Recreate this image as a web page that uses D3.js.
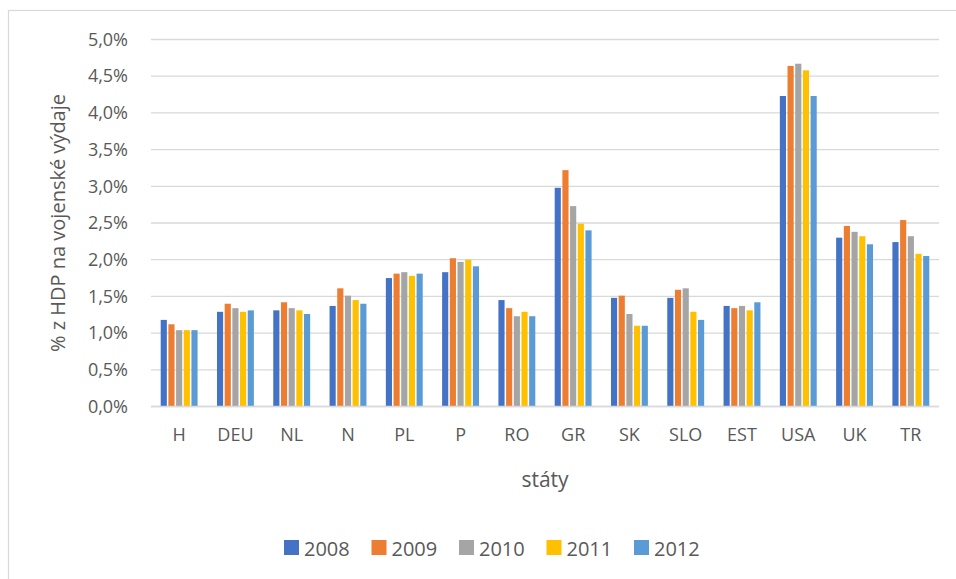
<!DOCTYPE html>
<html>
<head>
<meta charset="utf-8">
<script src="https://cdn.jsdelivr.net/npm/d3@7"></script>
<style>
  body { margin: 0; background: #fff; }
  text { font-family: "Open Sans", "Noto Sans", sans-serif; fill: #595959; }
</style>
</head>
<body>
<div id="chart"></div>
<script>
// data
const states = ["H", "DEU", "NL", "N", "PL", "P", "RO", "GR", "SK", "SLO", "EST", "USA", "UK", "TR"];
const years = ["2008", "2009", "2010", "2011", "2012"];
const v2008 = [1.18, 1.29, 1.31, 1.37, 1.75, 1.83, 1.45, 2.98, 1.48, 1.48, 1.37, 4.23, 2.30, 2.24];
const v2009 = [1.12, 1.40, 1.42, 1.61, 1.81, 2.02, 1.34, 3.22, 1.51, 1.59, 1.34, 4.64, 2.46, 2.54];
const v2010 = [1.04, 1.34, 1.34, 1.51, 1.83, 1.97, 1.23, 2.73, 1.26, 1.61, 1.37, 4.67, 2.38, 2.32];
const v2011 = [1.04, 1.29, 1.31, 1.45, 1.78, 2.00, 1.29, 2.49, 1.10, 1.29, 1.31, 4.58, 2.32, 2.08];
const v2012 = [1.04, 1.31, 1.26, 1.40, 1.81, 1.91, 1.23, 2.40, 1.10, 1.18, 1.42, 4.23, 2.21, 2.05];
const yTicks = [0, 0.5, 1, 1.5, 2, 2.5, 3, 3.5, 4, 4.5, 5];
const colors = ["#4472C4", "#ED7D31", "#A5A5A5", "#FFC000", "#5B9BD5"];

const series = [v2008, v2009, v2010, v2011, v2012];

const width = 956, height = 579;
const plotLeft = 151, plotRight = 939, plotTop = 39.5, plotBottom = 406.5;

const svg = d3.select("#chart").append("svg")
  .attr("width", width)
  .attr("height", height);

// outer chart frame
svg.append("rect")
  .attr("x", 8.5).attr("y", 10.5)
  .attr("width", 1000).attr("height", 700)
  .attr("fill", "#fff")
  .attr("stroke", "#d9d9d9")
  .attr("stroke-width", 1.2);

const x = d3.scaleBand().domain(states).range([plotLeft, plotRight]).paddingInner(0.29).paddingOuter(0.145);
const xs = d3.scaleBand().domain(years).range([0, x.bandwidth()]).padding(0.2);
const y = d3.scaleLinear().domain([0, 5]).range([plotBottom, plotTop]);

// gridlines
svg.append("g")
  .selectAll("line")
  .data(yTicks)
  .enter()
  .append("line")
  .attr("x1", plotLeft).attr("x2", plotRight)
  .attr("y1", d => y(d)).attr("y2", d => y(d))
  .attr("stroke", "#d9d9d9")
  .attr("stroke-width", 1.3);

// y axis labels
const yAxis = d3.axisLeft(y)
  .tickValues(yTicks)
  .tickSize(0)
  .tickPadding(23)
  .tickFormat(d => d3.format(".1f")(d).replace(".", ",") + "%");
svg.append("g")
  .attr("transform", `translate(${plotLeft},0)`)
  .call(yAxis)
  .call(g => g.select(".domain").remove())
  .call(g => g.selectAll("text").attr("font-size", 18).style("font-family", null).attr("font-family", null));

// bars
const groups = svg.append("g")
  .selectAll("g")
  .data(states)
  .enter()
  .append("g")
  .attr("transform", d => `translate(${x(d)},0)`);

groups.selectAll("rect")
  .data((d, i) => series.map((s, j) => ({ year: years[j], value: s[i] })))
  .enter()
  .append("rect")
  .attr("x", d => xs(d.year))
  .attr("y", d => y(d.value))
  .attr("width", xs.bandwidth())
  .attr("height", d => y(0) - y(d.value))
  .attr("fill", (d, j) => colors[j]);

// x axis line on top of bars
svg.append("line")
  .attr("x1", plotLeft).attr("x2", plotRight)
  .attr("y1", y(0)).attr("y2", y(0))
  .attr("stroke", "#d9d9d9")
  .attr("stroke-width", 1.3);

// x axis labels
const xAxis = d3.axisBottom(x).tickSize(0).tickPadding(22);
svg.append("g")
  .attr("transform", `translate(0,${plotBottom})`)
  .call(xAxis)
  .call(g => g.select(".domain").remove())
  .call(g => g.selectAll("text").attr("font-size", 18).style("font-family", null).attr("font-family", null));

// axis titles
svg.append("text")
  .attr("x", (plotLeft + plotRight) / 2)
  .attr("y", 487)
  .attr("text-anchor", "middle")
  .attr("font-size", 21)
  .text("státy");

svg.append("text")
  .attr("transform", `translate(65,${(plotTop + plotBottom) / 2}) rotate(-90)`)
  .attr("text-anchor", "middle")
  .attr("font-size", 20)
  .text("% z HDP na vojenské výdaje");

// legend
const legend = svg.append("g")
  .selectAll("g")
  .data(years)
  .enter()
  .append("g")
  .attr("transform", (d, i) => `translate(${284 + i * 87.5},540)`);

legend.append("rect")
  .attr("width", 15).attr("height", 15)
  .attr("fill", (d, i) => colors[i]);

legend.append("text")
  .attr("x", 20).attr("y", 15.5)
  .attr("font-size", 20)
  .text(d => d);
</script>
</body>
</html>
